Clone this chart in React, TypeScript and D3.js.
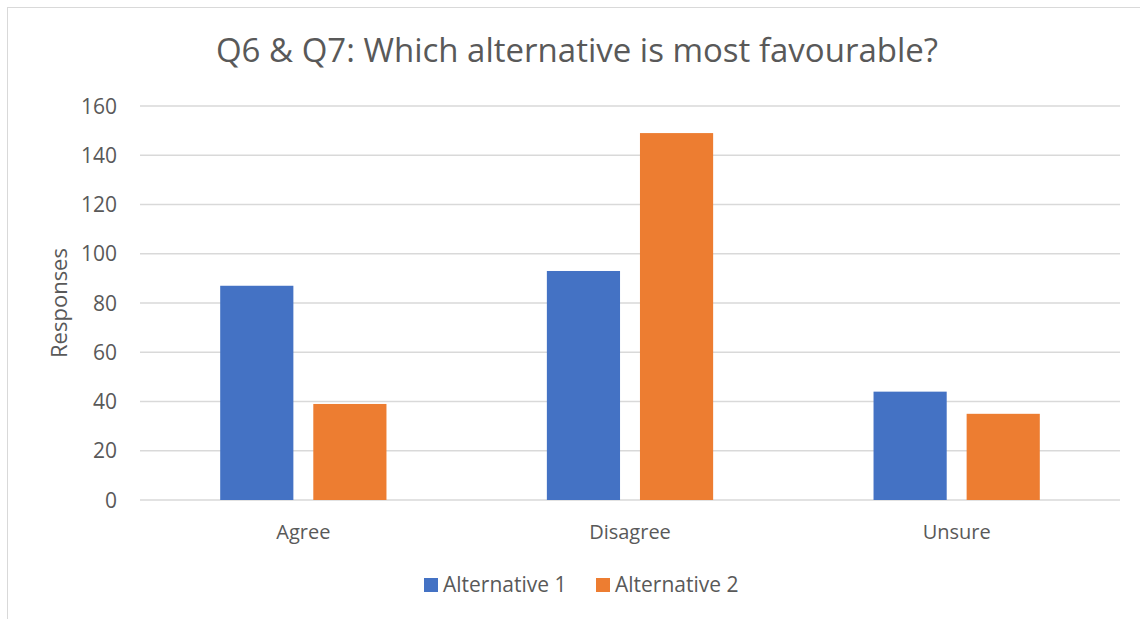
import React, { useEffect, useRef } from 'react';
import * as d3 from 'd3';

const categories = ['Agree', 'Disagree', 'Unsure'];
const seriesNames = ['Alternative 1', 'Alternative 2'];
const alternative1 = [87, 93, 44];
const alternative2 = [39, 149, 35];
const yTicks = [0, 20, 40, 60, 80, 100, 120, 140, 160];
const colors = ['#4472C4', '#ED7D31'];

const FONT = "'Open Sans', sans-serif";
const TEXT = '#595959';

export default function App() {
  const svgRef = useRef<SVGSVGElement>(null);

  useEffect(() => {
    if (!svgRef.current) return;
    document.body.style.margin = '0';

    const svg = d3.select(svgRef.current);
    svg.selectAll('*').remove();

    const width = 1140;
    const height = 619;
    const margin = { top: 106, right: 20, bottom: 119, left: 140 };
    const innerWidth = width - margin.left - margin.right;
    const innerHeight = height - margin.top - margin.bottom;

    // chart frame (right and bottom edges fall outside the picture)
    svg.append('rect')
      .attr('x', 7.5)
      .attr('y', 7.5)
      .attr('width', width + 10)
      .attr('height', height + 10)
      .attr('fill', '#fff')
      .attr('stroke', '#d9d9d9')
      .attr('stroke-width', 1);

    const g = svg.append('g')
      .attr('transform', `translate(${margin.left},${margin.top})`);

    const xScale = d3.scaleBand()
      .domain(categories)
      .range([0, innerWidth]);

    const barWidth = xScale.bandwidth() * 0.224;
    const barGap = xScale.bandwidth() * 0.061;

    const yScale = d3.scaleLinear()
      .domain([0, 160])
      .range([innerHeight, 0]);

    // gridlines
    g.selectAll('.grid')
      .data(yTicks)
      .enter()
      .append('line')
      .attr('x1', 0)
      .attr('x2', innerWidth)
      .attr('y1', d => yScale(d))
      .attr('y2', d => yScale(d))
      .attr('stroke', '#d9d9d9')
      .attr('stroke-width', 1.3);

    // y tick labels
    g.selectAll('.ytick')
      .data(yTicks)
      .enter()
      .append('text')
      .attr('x', -23)
      .attr('y', d => yScale(d))
      .attr('dy', '0.36em')
      .attr('text-anchor', 'end')
      .attr('fill', TEXT)
      .style('font-family', FONT)
      .style('font-size', '21px')
      .text(d => d);

    const flatData = categories.flatMap((c, i) => [
      { category: c, series: 0, value: alternative1[i] },
      { category: c, series: 1, value: alternative2[i] }
    ]);

    g.selectAll('.bar')
      .data(flatData)
      .enter()
      .append('rect')
      .attr('x', d => {
        const center = (xScale(d.category) || 0) + xScale.bandwidth() / 2;
        return d.series === 0 ? center - barGap / 2 - barWidth : center + barGap / 2;
      })
      .attr('y', d => yScale(d.value))
      .attr('width', barWidth)
      .attr('height', d => innerHeight - yScale(d.value))
      .attr('fill', d => colors[d.series]);

    // category labels
    g.selectAll('.xtick')
      .data(categories)
      .enter()
      .append('text')
      .attr('x', d => (xScale(d) || 0) + xScale.bandwidth() / 2)
      .attr('y', innerHeight + 39)
      .attr('text-anchor', 'middle')
      .attr('fill', TEXT)
      .style('font-family', FONT)
      .style('font-size', '20px')
      .text(d => d);

    // y axis title
    svg.append('text')
      .attr('transform', `translate(67,${margin.top + innerHeight / 2}) rotate(-90)`)
      .attr('text-anchor', 'middle')
      .attr('fill', TEXT)
      .style('font-family', FONT)
      .style('font-size', '22px')
      .text('Responses');

    // title
    svg.append('text')
      .attr('x', 577)
      .attr('y', 62)
      .attr('text-anchor', 'middle')
      .attr('fill', TEXT)
      .style('font-family', FONT)
      .style('font-size', '33px')
      .text('Q6 & Q7: Which alternative is most favourable?');

    // legend
    const legendX = [424, 596];
    seriesNames.forEach((name, i) => {
      svg.append('rect')
        .attr('x', legendX[i])
        .attr('y', 578)
        .attr('width', 14)
        .attr('height', 14)
        .attr('fill', colors[i]);
      svg.append('text')
        .attr('x', legendX[i] + 19)
        .attr('y', 592)
        .attr('fill', TEXT)
        .style('font-family', FONT)
        .style('font-size', '21px')
        .text(name);
    });
  }, []);

  return (
    <svg ref={svgRef} width={1140} height={619} style={{ display: 'block' }}></svg>
  );
}
